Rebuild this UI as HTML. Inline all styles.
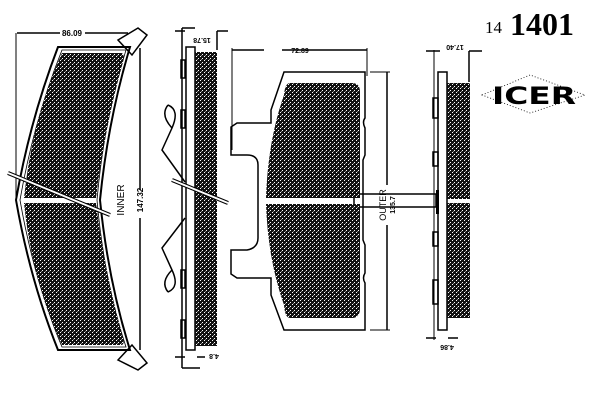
<!DOCTYPE html>
<html><head><meta charset="utf-8"><style>
html,body{margin:0;padding:0;background:#fff;}
svg{display:block;}
</style></head><body>
<svg width="600" height="400" viewBox="0 0 600 400" xmlns="http://www.w3.org/2000/svg" font-family="Liberation Sans, sans-serif">
<defs>
<pattern id="fr" width="4" height="4" patternUnits="userSpaceOnUse">
<rect width="4" height="4" fill="#111"/>
<rect x="0" y="0" width="1" height="1" fill="#fff"/>
<rect x="2" y="2" width="1" height="1" fill="#fff"/>
<rect x="1" y="3" width="1" height="1" fill="#888"/>
</pattern>
</defs>
<g fill="none" stroke="#000" stroke-width="1.5">
<!-- LEFT PAD backing -->
<path d="M58,47 L130,47 Q108,120 100,200 Q108,280 130,350 L58,350 Q30,280 16,200 Q30,120 58,47 Z" stroke-width="2"/>
<path d="M62,50 L126,50 Q104,120 97,200 Q104,280 126,347 L62,347 Q34,280 20,200 Q34,120 62,50 Z" stroke-width="0.8"/>
<!-- tabs -->
<path d="M118,40 L138,28 L147,35 L132,55 Z"/>
<path d="M118,360 L138,370 L147,363 L132,345 Z"/>
<!-- dims left -->
<line x1="17" y1="33" x2="60" y2="33"/><line x1="85" y1="33" x2="128" y2="33"/>
<line x1="16" y1="33" x2="16" y2="200" stroke-width="1"/>
<line x1="140" y1="48" x2="140" y2="190"/><line x1="140" y1="218" x2="140" y2="350"/>
</g>
<path d="M62,53 L122,53 Q125,56 123,62 Q104,130 96,198 L24,198 Q32,120 62,53 Z" fill="url(#fr)"/>
<path d="M24,203 L96,203 Q104,270 123,338 Q125,345 121,345 L62,345 Q32,280 24,203 Z" fill="url(#fr)"/>
<line x1="8" y1="173" x2="110" y2="215" stroke="#000" stroke-width="4"/>
<line x1="8" y1="173" x2="110" y2="215" stroke="#fff" stroke-width="2"/>
<text x="72" y="36" font-size="8" font-weight="bold" text-anchor="middle">86.09</text>
<text transform="translate(143,200) rotate(-90)" font-size="8" font-weight="bold" text-anchor="middle">147.32</text>
<text transform="translate(124,200) rotate(-90)" font-size="10" text-anchor="middle">INNER</text>

<!-- SIDE VIEW 1 -->
<g fill="none" stroke="#000" stroke-width="1.5">
<rect x="186" y="47" width="9" height="303"/>
<line x1="182" y1="28" x2="182" y2="368"/>
<line x1="182" y1="28" x2="195" y2="28"/><line x1="182" y1="368" x2="200" y2="368"/>
<line x1="175" y1="31" x2="185" y2="31"/><line x1="217" y1="31" x2="228" y2="31"/>
<line x1="217" y1="31" x2="217" y2="50"/>
<line x1="175" y1="357" x2="185" y2="357"/><line x1="197" y1="357" x2="205" y2="357"/>
<path d="M168,105 Q180,110 172,128 L162,150 L185,182"/>
<path d="M168,105 Q160,115 172,128"/>
<path d="M168,292 Q180,287 172,270 L162,248 L185,218"/>
<path d="M168,292 Q160,282 172,270"/>
<rect x="181" y="60" width="4" height="18"/><rect x="181" y="110" width="4" height="18"/>
<rect x="181" y="270" width="4" height="18"/><rect x="181" y="320" width="4" height="18"/>
</g>
<rect x="195" y="52" width="22" height="294" fill="url(#fr)"/>
<line x1="172" y1="180" x2="228" y2="203" stroke="#000" stroke-width="4"/>
<line x1="172" y1="180" x2="228" y2="203" stroke="#fff" stroke-width="2"/>
<text transform="translate(202,38) rotate(180)" font-size="7" font-weight="bold" text-anchor="middle">15.78</text>
<text transform="translate(214,354) rotate(180)" font-size="7" font-weight="bold" text-anchor="middle">4.8</text>

<!-- MIDDLE PAD -->
<g fill="none" stroke="#000" stroke-width="1.5">
<path d="M284,72 L365,72 L365,118 Q362,122 365,128 L365,155 L363,160 L363,240 L365,245 L365,273 Q362,278 365,283 L365,330 L284,330 L271,295 L271,278 L237,278 L231,274 L231,250 L247,250 Q258,248 258,238 L258,165 Q258,155 247,155 L231,155 L231,127 L237,123 L271,123 L271,110 Z"/>
<line x1="232" y1="50" x2="264" y2="50"/><line x1="282" y1="50" x2="367" y2="50"/>
<line x1="232" y1="48" x2="232" y2="150" stroke-width="1"/>
<line x1="367" y1="48" x2="367" y2="76" stroke-width="1"/>
<line x1="387" y1="72" x2="387" y2="185"/><line x1="387" y1="225" x2="387" y2="330"/>
<line x1="370" y1="72" x2="390" y2="72" stroke-width="1"/>
<line x1="370" y1="330" x2="390" y2="330" stroke-width="1"/>
<rect x="354" y="194" width="82" height="13" stroke-width="1.5"/>
</g>
<path d="M290,83 L352,83 Q360,83 360,92 L360,198 L266,198 Q268,140 284,95 Q285,83 290,83 Z" fill="url(#fr)"/>
<path d="M266,204 L360,204 L360,308 Q360,318 352,318 L290,318 Q285,318 284,305 Q268,260 266,204 Z" fill="url(#fr)"/>
<text x="300" y="53" font-size="7" font-weight="bold" text-anchor="middle">72.89</text>
<text transform="translate(386,205) rotate(-90)" font-size="9" text-anchor="middle">OUTER</text>
<text transform="translate(395,205) rotate(-90)" font-size="7" font-weight="bold" text-anchor="middle">135.7</text>

<!-- SIDE VIEW 2 -->
<g fill="none" stroke="#000" stroke-width="1.5">
<rect x="438" y="72" width="9" height="258"/>
<line x1="434" y1="50" x2="434" y2="340" stroke-width="1"/>
<line x1="426" y1="51" x2="440" y2="51"/><line x1="469" y1="51" x2="482" y2="51"/>
<line x1="469" y1="51" x2="469" y2="82"/>
<line x1="426" y1="338" x2="436" y2="338"/><line x1="448" y1="338" x2="458" y2="338"/>
<rect x="433" y="98" width="5" height="20"/><rect x="433" y="152" width="5" height="14"/>
<rect x="433" y="232" width="5" height="14"/><rect x="433" y="280" width="5" height="24"/>
</g>
<rect x="447" y="83" width="23" height="116" fill="url(#fr)"/>
<rect x="447" y="203" width="23" height="115" fill="url(#fr)"/>
<rect x="436" y="190" width="3" height="24" fill="#000"/>
<text transform="translate(455,45) rotate(180)" font-size="7" font-weight="bold" text-anchor="middle">17.40</text>
<text transform="translate(447,345) rotate(180)" font-size="7" font-weight="bold" text-anchor="middle">4.86</text>

<!-- TITLE -->
<text x="485" y="33" font-family="Liberation Serif, serif" font-size="17">14</text>
<text x="510" y="35" font-family="Liberation Serif, serif" font-size="32" font-weight="bold">1401</text>
<!-- ICER logo -->
<path d="M482,95 L530,75 L585,95 L530,113 Z" fill="none" stroke="#000" stroke-width="0.8" stroke-dasharray="1,2"/>
<text x="534" y="104" font-size="24" font-weight="900" text-anchor="middle" font-family="DejaVu Sans, sans-serif" textLength="84" lengthAdjust="spacingAndGlyphs">ICER</text>
</svg>
</body></html>
